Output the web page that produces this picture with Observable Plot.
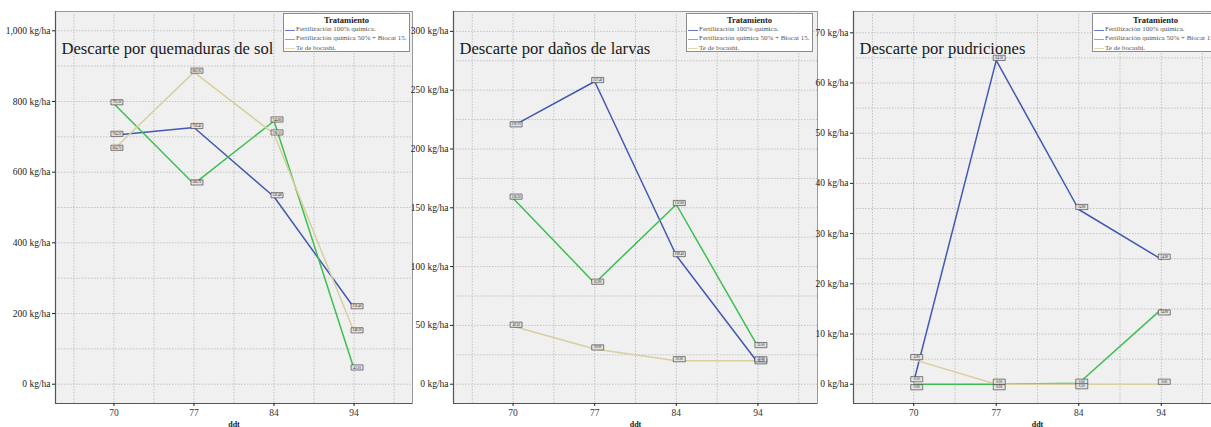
<!DOCTYPE html>
<html>
<head>
<meta charset="utf-8">
<script src="https://cdn.jsdelivr.net/npm/d3@7"></script>
<script src="https://cdn.jsdelivr.net/npm/@observablehq/plot@0.6"></script>
<style>
  html, body { margin: 0; padding: 0; background: #fff; }
  #wrap { position: relative; width: 1211px; height: 427px; overflow: hidden; background: #fff; }
  .panel { position: absolute; top: 0; }
  .panel svg { max-width: none !important; display: block; }
  .legend { position: absolute; top: 13px; height: 39px; width: 127px; box-sizing: border-box;
    border: 1px solid #8c8c8c; background: #fff; font-family: "Liberation Serif", serif; }
  .legend .lt { text-align: center; font-weight: bold; font-size: 8.5px; color: #222; margin-top: 1px; height: 10px; line-height: 10px; }
  .legend .li { position: relative; height: 9.3px; line-height: 9.3px; font-size: 7px; color: #555; white-space: nowrap; padding-left: 12px; }
  .legend .li span.sw { position: absolute; left: 1px; top: 4.5px; width: 10px; height: 0; border-top: 1px solid; opacity: 0.8; }
</style>
</head>
<body>
<div id="wrap"></div>
<script>
// ---- data ----
const days = ["70", "77", "84", "94"];
const series = ["Fertilización 100% química.", "Fertilización química 50% + Biocat 15.", "Te de bocashi."];
const colors = ["#4259b4", "#3dbf50", "#d8cf9e"];

const solQuimica = [704.22, 726.45, 530.48, 216.40];
const solBiocat = [793.50, 566.72, 744.80, 43.10];
const solBocashi = [664.75, 882.95, 708.15, 148.30];
const solTicks = [0, 200, 400, 600, 800, 1000];

const larvasQuimica = [219.70, 257.40, 109.40, 18.20];
const larvasBiocat = [158.20, 85.90, 152.80, 32.00];
const larvasBocashi = [49.30, 30.00, 20.00, 19.90];
const larvasTicks = [0, 50, 100, 150, 200, 250, 300];

const pudQuimica = [0.50, 64.50, 34.80, 24.90];
const pudBiocat = [0.00, 0.00, 0.20, 14.90];
const pudBocashi = [4.90, 0.00, 0.00, 0.00];
const pudTicks = [0, 10, 20, 30, 40, 50, 60, 70];

const titles = ["Descarte por quemaduras de sol", "Descarte por daños de larvas", "Descarte por pudriciones"];

// ---- helpers ----
function rows(arrs) {
  const out = [];
  arrs.forEach((arr, s) => arr.forEach((v, i) => out.push({i, v, s: series[s]})));
  return out;
}
const boxSymbol = {
  draw(ctx) {
    ctx.moveTo(-6, -2.6); ctx.lineTo(6, -2.6); ctx.lineTo(6, 2.6); ctx.lineTo(-6, 2.6); ctx.closePath();
  }
};
const xPad = 0.73;
const xDomain = [-xPad, days.length - 1 + xPad];
const xGrid = d3.range(-0.5, days.length - 0.5 + 0.01, 0.5);

function labelMarks(data, dy) {
  return [
    Plot.dot(data, {x: "i", y: "v", symbol: boxSymbol, fill: "#e2e2e2", stroke: "#333", strokeWidth: 0.6, dx: 3, dy}),
    Plot.text(data, {x: "i", y: "v", text: d => d.v.toFixed(2), fontSize: 3.3, fill: "#222", dx: 3, dy})
  ];
}

function panel({data, yDomain, yTicks, title, width, marginLeft, marginRight, splitLabels}) {
  const step = yTicks[1] - yTicks[0];
  const yGrid = d3.range(yTicks[0], yTicks[yTicks.length - 1] + step / 4, step / 2);
  const labels = splitLabels
    ? [...labelMarks(data.filter(d => d.s !== series[1]), -2.5), ...labelMarks(data.filter(d => d.s === series[1]), 3)]
    : labelMarks(data, -1.5);
  return Plot.plot({
    width, height: 427,
    marginLeft, marginRight, marginTop: 11, marginBottom: 24,
    style: {fontFamily: "Liberation Serif, serif", fontSize: "9.5px", color: "#222", background: "transparent", overflow: "visible"},
    x: {type: "linear", domain: xDomain},
    y: {domain: yDomain},
    color: {domain: series, range: colors},
    marks: [
      Plot.frame({fill: "#f0f0f0", stroke: "#9a9a9a"}),
      Plot.ruleY(yGrid, {stroke: "#c2c2c2", strokeWidth: 1, strokeDasharray: "1.5,1.5"}),
      Plot.ruleX(xGrid, {stroke: "#c2c2c2", strokeWidth: 1, strokeDasharray: "1.5,1.5"}),
      Plot.ruleX([xDomain[0]], {stroke: "#555", strokeWidth: 1.2}),
      Plot.ruleY([yDomain[0]], {stroke: "#555", strokeWidth: 1.2}),
      Plot.axisY(yTicks, {tickSize: 3, tickPadding: 2, tickFormat: d => d3.format(",")(d) + " kg/ha", label: null, fill: "#222"}),
      Plot.axisX([0, 1, 2, 3], {tickSize: 3, tickPadding: 3, tickFormat: i => days[i], label: null, fill: "#333"}),
      Plot.text(["ddt"], {frameAnchor: "bottom", dy: 23, fontWeight: "bold", fontSize: 8, fill: "#222", lineAnchor: "bottom"}),
      Plot.text([title], {frameAnchor: "top-left", dx: 6, dy: 42, lineAnchor: "bottom", fontSize: 16.6, fill: "#1a1a1a"}),
      Plot.line(data, {x: "i", y: "v", z: "s", stroke: "s", strokeWidth: 1.5}),
      ...labels
    ]
  });
}

function build(cfg) {
  const div = document.createElement("div");
  div.className = "panel";
  div.style.left = cfg.left + "px";
  div.appendChild(panel(cfg));
  document.getElementById("wrap").appendChild(div);
  const lg = document.createElement("div");
  lg.className = "legend";
  lg.style.left = cfg.legendLeft + "px";
  const t = document.createElement("div");
  t.className = "lt"; t.textContent = "Tratamiento";
  lg.appendChild(t);
  series.forEach((s, k) => {
    const li = document.createElement("div");
    li.className = "li";
    const sw = document.createElement("span");
    sw.className = "sw"; sw.style.borderColor = colors[k];
    li.appendChild(sw);
    li.appendChild(document.createTextNode(s));
    lg.appendChild(li);
  });
  document.getElementById("wrap").appendChild(lg);
}

build({data: rows([solQuimica, solBiocat, solBocashi]), yDomain: [-54.6, 1054.6], yTicks: solTicks,
  title: titles[0], left: 0, width: 413, marginLeft: 55, marginRight: 1, legendLeft: 283});
build({data: rows([larvasQuimica, larvasBiocat, larvasBocashi]), yDomain: [-16.4, 316.9], yTicks: larvasTicks,
  title: titles[1], left: 413, width: 405, marginLeft: 40, marginRight: 1, legendLeft: 686});
build({data: rows([pudQuimica, pudBiocat, pudBocashi]), yDomain: [-3.84, 74.24], yTicks: pudTicks,
  title: titles[2], left: 818, width: 404, marginLeft: 35, marginRight: 1, legendLeft: 1092, splitLabels: true});
</script>
</body>
</html>
